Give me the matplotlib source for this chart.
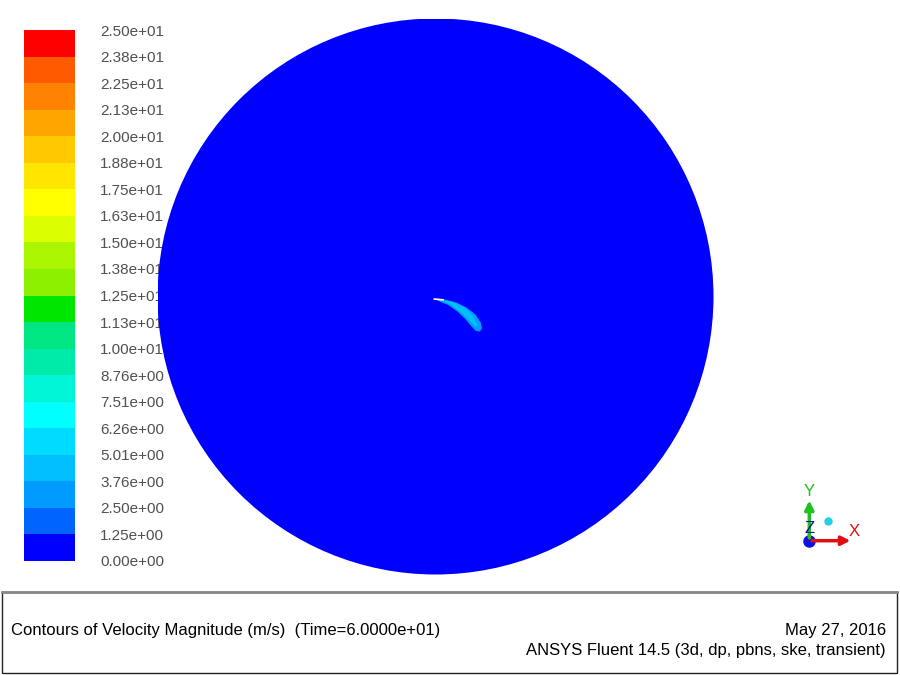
import numpy as np
import matplotlib
matplotlib.use("Agg")
import matplotlib.pyplot as plt
from matplotlib.colors import ListedColormap, BoundaryNorm
from matplotlib.patches import Circle, Polygon, Rectangle
import matplotlib.colorbar as mcolorbar

plt.rcParams['font.family'] = ['Liberation Sans', 'DejaVu Sans']

# contour levels (m/s) and the labels Fluent prints for them
levels = [0.0, 1.25, 2.50, 3.76, 5.01, 6.26, 7.51, 8.76, 10.0, 11.3, 12.5,
          13.8, 15.0, 16.3, 17.5, 18.8, 20.0, 21.3, 22.5, 23.8, 25.0]
level_labels = ["0.00e+00", "1.25e+00", "2.50e+00", "3.76e+00", "5.01e+00",
                "6.26e+00", "7.51e+00", "8.76e+00", "1.00e+01", "1.13e+01",
                "1.25e+01", "1.38e+01", "1.50e+01", "1.63e+01", "1.75e+01",
                "1.88e+01", "2.00e+01", "2.13e+01", "2.25e+01", "2.38e+01",
                "2.50e+01"]
band_colors = ["#0000ff", "#0064ff", "#009bff", "#00beff", "#00dcff",
               "#00ffff", "#00f5d7", "#00ebaa", "#00e682", "#00e600",
               "#8cf000", "#aaf500", "#dcff00", "#ffff00", "#ffe600",
               "#ffc800", "#ffa500", "#ff8200", "#ff5a00", "#ff0000"]

# velocity in most of the cross-section, and the small wake near the centre
# (domain coords, disk radius = 1)
background_speed = 0.5
wake_outer_x = [-0.002, 0.034, 0.076, 0.112, 0.144, 0.163, 0.167, 0.160,
                0.145, 0.128, 0.108, 0.080, 0.045, 0.010]
wake_outer_y = [-0.008, -0.011, -0.022, -0.040, -0.065, -0.094, -0.114, -0.126,
                -0.124, -0.106, -0.082, -0.055, -0.030, -0.016]
wake_outer_speed = 3.0
wake_inner_x = [0.012, 0.060, 0.105, 0.135, 0.150, 0.146, 0.130, 0.100, 0.055]
wake_inner_y = [-0.011, -0.019, -0.040, -0.070, -0.100, -0.112, -0.095, -0.064, -0.030]
wake_inner_speed = 4.2
streak_x = [-0.004, 0.027]
streak_y = [-0.009, -0.012]

cmap = ListedColormap(band_colors)
norm = BoundaryNorm(levels, cmap.N)

W, H = 900, 675
fig = plt.figure(figsize=(9, 6.75), dpi=100)
fig.patch.set_facecolor('white')

# colour bar
cax = fig.add_axes([24 / W, (H - 561) / H, 51 / W, 531 / H])
cb = mcolorbar.ColorbarBase(cax, cmap=cmap, norm=norm, boundaries=levels,
                            ticks=levels, spacing='uniform')
cb.outline.set_visible(False)
cb.set_ticklabels(level_labels)
cax.tick_params(length=0, pad=18, labelsize=11, labelcolor='#505050')

# domain view (drawn over the colour bar labels, as in Fluent)
cx, cy, R = 435.5, 296.5, 278
ax = fig.add_axes([(cx - R) / W, (H - cy - R) / H, 2 * R / W, 2 * R / H])
ax.set_zorder(5)
ax.set_xlim(-1, 1)
ax.set_ylim(-1, 1)
ax.set_aspect('equal')
ax.axis('off')
ax.add_patch(Circle((0, 0), 1, facecolor=cmap(norm(background_speed)), edgecolor='none'))
ax.add_patch(Polygon(np.column_stack([wake_outer_x, wake_outer_y]),
                     facecolor=cmap(norm(wake_outer_speed)), edgecolor='none'))
ax.add_patch(Polygon(np.column_stack([wake_inner_x, wake_inner_y]),
                     facecolor=cmap(norm(wake_inner_speed)), edgecolor='none'))
ax.plot(streak_x, streak_y, color='white', lw=1.2)

# axis triad
tax = fig.add_axes([790 / W, (H - 560) / H, 80 / W, 80 / H])
tax.set_xlim(0, 80)
tax.set_ylim(0, 80)
tax.axis('off')
ox, oy = 19.3, 19.3
tax.annotate('', xy=(ox + 44, oy), xytext=(ox, oy),
             arrowprops=dict(arrowstyle='-|>', color='#e01010', lw=2.5, mutation_scale=13))
tax.annotate('', xy=(ox, oy + 43), xytext=(ox, oy),
             arrowprops=dict(arrowstyle='-|>', color='#20c020', lw=2.5, mutation_scale=13))
tax.plot([ox], [oy], 'o', color='#1010e0', ms=8)
tax.plot([ox + 19], [oy + 20], 'o', color='#20d0e0', ms=5)
tax.text(ox, oy + 49, 'Y', color='#20c020', ha='center', va='center', fontsize=12)
tax.text(ox, oy + 12, 'Z', color='#1010a0', ha='center', va='center', fontsize=12)
tax.text(ox + 45, oy + 9, 'X', color='#e01010', ha='center', va='center', fontsize=12)

# title box
bax = fig.add_axes([0, 0, 1, 1], facecolor='none')
bax.set_xlim(0, W)
bax.set_ylim(H, 0)
bax.axis('off')
bax.add_patch(Rectangle((2, 592), 895, 81, facecolor='white', edgecolor='#222222', lw=1))
bax.plot([2, 897], [592, 592], color='#888888', lw=2)
bax.text(11, 631, 'Contours of Velocity Magnitude (m/s)  (Time=6.0000e+01)',
         ha='left', va='center', fontsize=12, color='black')
bax.text(886, 631, 'May 27, 2016', ha='right', va='center', fontsize=12, color='black')
bax.text(886, 651, 'ANSYS Fluent 14.5 (3d, dp, pbns, ske, transient)',
         ha='right', va='center', fontsize=12, color='black')

fig.savefig('out.png', dpi=100, facecolor='white')
